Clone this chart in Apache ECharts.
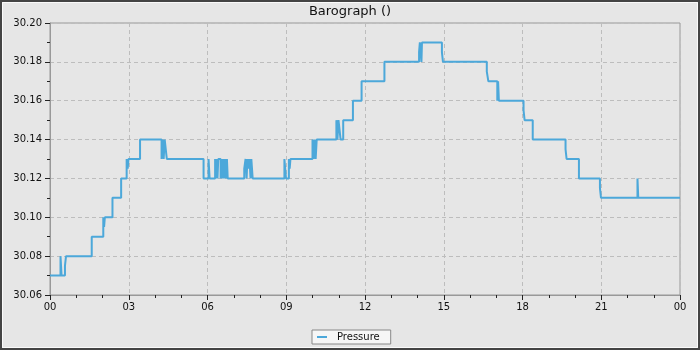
<!DOCTYPE html>
<html>
<head>
<meta charset="utf-8">
<script src="https://cdn.jsdelivr.net/npm/echarts@6/dist/echarts.min.js"></script>
<style>
html,body{margin:0;padding:0;background:#e6e6e6;}
#chart{width:700px;height:350px;}
</style>
</head>
<body>
<div id="chart"></div>
<script>
// time of each reading, hours since midnight
var hours = [
  0.00, 0.40, 0.44, 0.57, 0.61, 1.59, 2.03, 2.06, 2.09, 2.38, 2.71, 2.92, 2.96, 2.99, 3.43,
  4.25, 4.29, 4.33, 4.37, 4.41, 4.45, 5.85, 6.04, 6.08,
  6.29, 6.32, 6.35, 6.38, 6.41, 6.50, 6.53, 6.57, 6.60, 6.64, 6.67, 6.71, 6.74, 6.77,
  7.40, 7.45, 7.49, 7.52, 7.56, 7.60, 7.64, 7.67, 7.72,
  8.93, 8.96, 8.99, 9.10, 9.13, 9.16,
  10.00, 10.04, 10.08, 10.12, 10.16, 10.91, 10.95, 10.99, 11.03, 11.07, 11.17,
  11.54, 11.87, 12.74, 14.06, 14.09, 14.15, 14.17, 14.93, 14.97,
  16.64, 16.70, 17.04, 17.07, 17.10, 18.04, 18.08, 18.39, 19.64, 19.68, 20.15,
  20.95, 20.99, 22.38, 22.41, 24.00
];
// pressure (inHg) from that time on
var pressure = [
  30.07, 30.08, 30.07, 30.075, 30.08, 30.09, 30.10, 30.095, 30.10, 30.11, 30.12, 30.13, 30.125, 30.13, 30.14,
  30.13, 30.14, 30.13, 30.14, 30.135, 30.13, 30.12, 30.13, 30.12,
  30.13, 30.12, 30.13, 30.12, 30.13, 30.12, 30.13, 30.12, 30.13, 30.12, 30.13, 30.12, 30.13, 30.12,
  30.125, 30.13, 30.12, 30.13, 30.125, 30.13, 30.12, 30.13, 30.12,
  30.13, 30.125, 30.12, 30.13, 30.125, 30.13,
  30.14, 30.13, 30.14, 30.13, 30.14, 30.15, 30.14, 30.15, 30.145, 30.14, 30.15,
  30.16, 30.17, 30.18, 30.185, 30.19, 30.18, 30.19, 30.185, 30.18,
  30.175, 30.17, 30.16, 30.17, 30.16, 30.155, 30.15, 30.14, 30.135, 30.13, 30.12,
  30.115, 30.11, 30.12, 30.11, 30.11
];
var xTickLabels = ['00', '03', '06', '09', '12', '15', '18', '21', '00'];
var seriesName = 'Pressure';
var chartTitle = 'Barograph ()';

var font = 'DejaVu Sans';
var chart = echarts.init(document.getElementById('chart'), null, {renderer: 'canvas'});
chart.setOption({
  animation: false,
  backgroundColor: '#e6e6e6',
  textStyle: {fontFamily: font},
  title: {
    text: chartTitle,
    left: 'center',
    top: 0,
    textStyle: {fontFamily: font, fontSize: 13, fontWeight: 'normal', color: '#111'}
  },
  legend: {
    data: [seriesName],
    left: 312,
    top: 330,
    padding: [2, 11, 2, 5],
    itemWidth: 10,
    itemHeight: 2,
    icon: 'rect',
    backgroundColor: '#f6f6f6',
    borderColor: '#888',
    borderWidth: 1,
    textStyle: {fontFamily: font, fontSize: 10, color: '#111', padding: [0, 0, 0, 5]}
  },
  grid: {
    left: 50, right: 20, top: 23, bottom: 55,
    show: true, borderColor: '#999', borderWidth: 1, backgroundColor: 'transparent'
  },
  graphic: [
    {type: 'rect', z: 100, silent: true, shape: {x: 1, y: 1, width: 698, height: 348}, style: {fill: null, stroke: '#444', lineWidth: 2}},
    {type: 'rect', z: 100, silent: true, shape: {x: 2.5, y: 2.5, width: 695, height: 345}, style: {fill: null, stroke: '#fafafa', lineWidth: 1}}
  ],
  xAxis: {
    type: 'value',
    min: 0, max: 24, interval: 3,
    axisLine: {show: true, lineStyle: {color: '#999', width: 1}},
    axisTick: {show: true, length: 5, lineStyle: {color: '#222'}},
    minorTick: {show: true, splitNumber: 3, length: 3, lineStyle: {color: '#222'}},
    splitLine: {show: true, lineStyle: {color: '#bdbdbd', type: [4, 3], width: 1}},
    axisLabel: {
      margin: 7, fontFamily: font, fontSize: 10, color: '#111',
      formatter: function (v) { return xTickLabels[Math.round(v / 3)]; }
    }
  },
  yAxis: {
    type: 'value',
    min: 30.06, max: 30.20, interval: 0.02,
    axisLine: {show: true, lineStyle: {color: '#999', width: 1}},
    axisTick: {show: true, length: 5, lineStyle: {color: '#222'}},
    minorTick: {show: true, splitNumber: 2, length: 3, lineStyle: {color: '#222'}},
    splitLine: {show: true, lineStyle: {color: '#bdbdbd', type: [4, 3], width: 1}},
    axisLabel: {
      margin: 8, fontFamily: font, fontSize: 10, color: '#111',
      formatter: function (v) { return v.toFixed(2); }
    }
  },
  series: [{
    name: seriesName,
    type: 'line',
    step: 'end',
    showSymbol: false,
    symbol: 'none',
    color: '#4ca8da',
    lineStyle: {width: 2, color: '#4ca8da'},
    data: hours.map(function (h, i) { return [h, pressure[i]]; })
  }]
});
</script>
</body>
</html>
